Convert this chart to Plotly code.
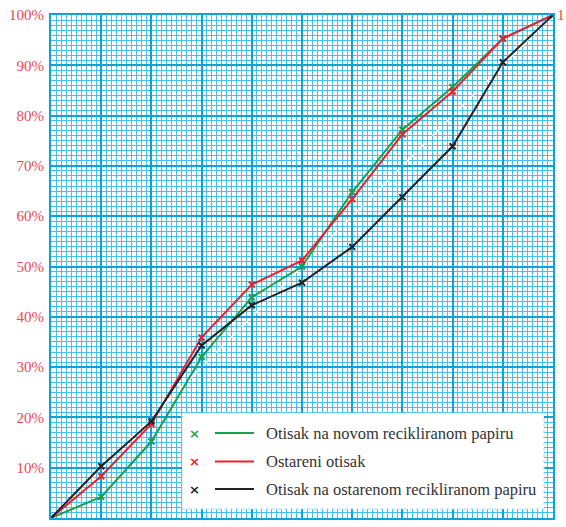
import plotly.graph_objects as go

x_vals = [0, 10, 20, 30, 40, 50, 60, 70, 80, 90, 100]
novi_reciklirani = [0, 4.2, 15.2, 32.0, 43.9, 50.0, 64.8, 77.2, 85.7, 95.3, 100]
ostareni = [0, 8.3, 18.7, 35.9, 46.4, 51.2, 63.4, 76.3, 84.8, 95.3, 100]
ostareni_reciklirani = [0, 10.3, 19.2, 34.3, 42.3, 46.8, 53.9, 63.8, 73.9, 90.6, 100]

series_names = ["Otisak na novom recikliranom papiru", "Ostareni otisak",
                "Otisak na ostarenom recikliranom papiru"]
series_colors = ["#17a04e", "#ec2029", "#222222"]
series_values = [novi_reciklirani, ostareni, ostareni_reciklirani]

y_tick_vals = [10, 20, 30, 40, 50, 60, 70, 80, 90, 100]
y_tick_text = ["10%", "20%", "30%", "40%", "50%", "60%", "70%", "80%", "90%", "100%"]

SERIF = "Times New Roman"

fig = go.Figure()

fig.add_trace(go.Scatter(x=[0, 100], y=[0, 100], mode="lines",
                         line=dict(color="white", width=1.5, dash="dash"),
                         showlegend=False, hoverinfo="skip"))

for name, color, vals in zip(series_names, series_colors, series_values):
    fig.add_trace(go.Scatter(
        x=x_vals, y=vals, mode="lines+markers", name=name,
        line=dict(color=color, width=2),
        marker=dict(symbol="x-thin", size=6, line=dict(color=color, width=2)),
        showlegend=False))

grid_major = "#0ba2de"
grid_minor = "#45c0ee"

axis_common = dict(
    range=[0, 100], dtick=10, tick0=0,
    showgrid=True, gridcolor=grid_major, gridwidth=2,
    minor=dict(dtick=1, showgrid=True, gridcolor=grid_minor, gridwidth=1.3),
    showline=True, linecolor=grid_major, linewidth=2, mirror=True,
    zeroline=False, fixedrange=True, automargin=False,
)

fig.update_layout(
    width=566, height=527,
    margin=dict(l=51, r=13, t=15, b=9, autoexpand=False),
    paper_bgcolor="white", plot_bgcolor="white",
    font=dict(family=SERIF, size=14, color="#ee4650"),
    xaxis=dict(**axis_common, showticklabels=False, ticks=""),
    yaxis=dict(**axis_common, tickmode="array", tickvals=y_tick_vals, ticktext=y_tick_text,
               ticks="outside", ticklen=0, tickwidth=0, tickcolor="rgba(0,0,0,0)",
               ticklabelstandoff=2,
               tickfont=dict(family=SERIF, size=15, color="#ee4650")),
)

fig.add_annotation(x=1, y=1, xref="paper", yref="paper", text="1", showarrow=False,
                   xanchor="left", yanchor="middle", xshift=2,
                   font=dict(family=SERIF, size=15, color="#ee4650"))

pw, ph = 502.0, 503.0
def px(xp):
    return (xp - 51) / pw
def py(yp):
    return (518 - yp) / ph

fig.add_shape(type="rect", xref="paper", yref="paper",
              x0=px(182), x1=px(544), y0=py(509), y1=py(413),
              fillcolor="white", line=dict(color="#9adcf5", width=1, dash="dot"), layer="above")

legend_y = [433, 461.5, 489]
for name, color, ly in zip(series_names, series_colors, legend_y):
    fig.add_annotation(x=px(194), y=py(ly), xref="paper", yref="paper", text="<b>×</b>",
                       showarrow=False, xanchor="center", yanchor="middle",
                       font=dict(family="DejaVu Sans", size=13, color=color))
    fig.add_shape(type="line", xref="paper", yref="paper",
                  x0=px(215), x1=px(254), y0=py(ly), y1=py(ly),
                  line=dict(color=color, width=2), layer="above")
    fig.add_annotation(x=px(264), y=py(ly), xref="paper", yref="paper", text=name,
                       showarrow=False, xanchor="left", yanchor="middle",
                       font=dict(family=SERIF, size=16.5, color="#333333"))

fig.write_html("out.html", config={"displayModeBar": False},
               post_script="document.body.style.margin='0';")
